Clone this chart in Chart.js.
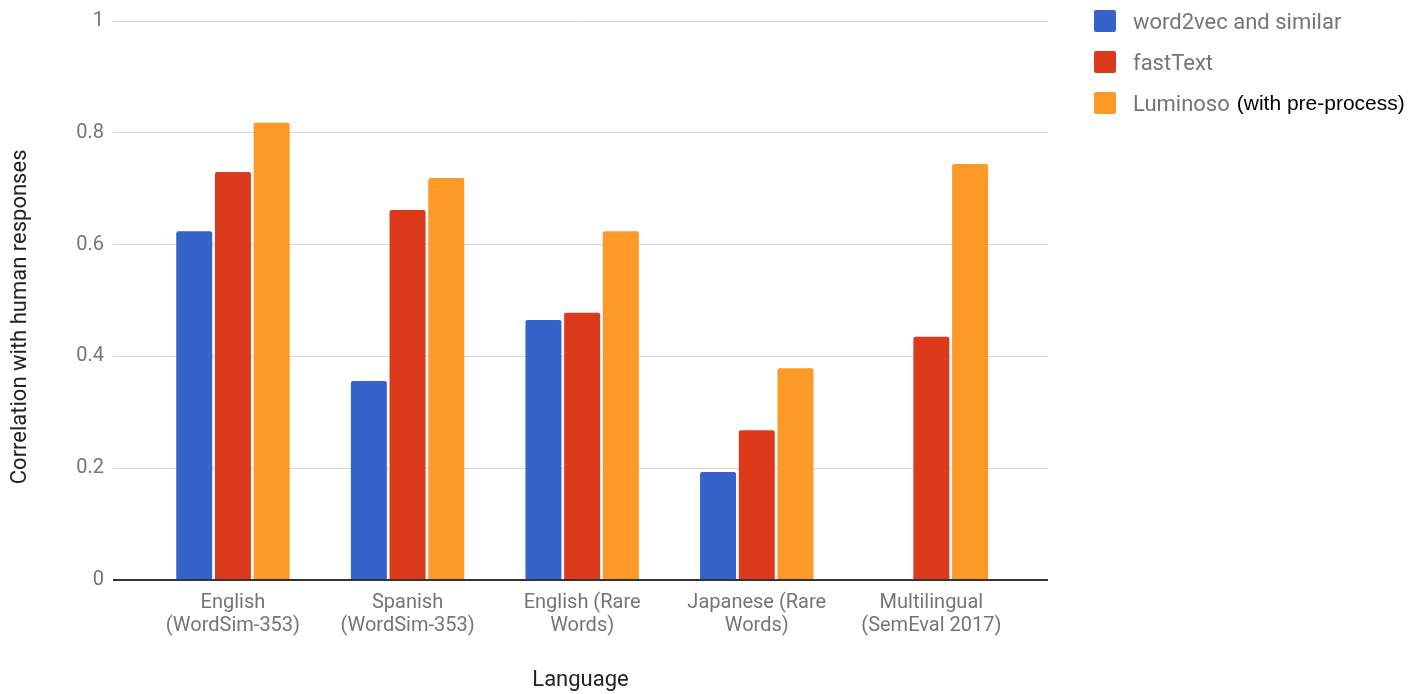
<!DOCTYPE html>
<html>
<head>
<meta charset="utf-8">
<script src="https://cdn.jsdelivr.net/npm/chart.js@4/dist/chart.umd.min.js"></script>
<style>
  html, body { margin: 0; padding: 0; background: #fff; }
  #wrap { position: relative; width: 1414px; height: 694px; overflow: hidden; }
  #c { position: absolute; left: 0; top: 0; }
  #legend { position: absolute; left: 1094px; top: 0; font-family: Roboto, sans-serif; font-size: 22px; color: #757575; }
  .row { position: absolute; left: 0; height: 22px; white-space: nowrap; display: flex; align-items: center; }
  .sw { width: 22px; height: 22px; border-radius: 2px; margin-right: 17px; flex: none; }
  .note { color: #000; font-family: "Liberation Sans", Arial, sans-serif; font-size: 21px; margin-left: 7px; }
</style>
</head>
<body>
<div id="wrap">
  <canvas id="c" width="1414" height="694"></canvas>
  <div id="legend"></div>
</div>
<script>
// ---- data ----
const categories = [
  ["English", "(WordSim-353)"],
  ["Spanish", "(WordSim-353)"],
  ["English (Rare", "Words)"],
  ["Japanese (Rare", "Words)"],
  ["Multilingual", "(SemEval 2017)"]
];
const seriesNames = ["word2vec and similar", "fastText", "Luminoso"];
const seriesNotes = ["", "", "(with pre-process)"];
const word2vecValues = [0.624, 0.356, 0.465, 0.193, null];
const fastTextValues = [0.730, 0.662, 0.478, 0.268, 0.435];
const luminosoValues = [0.818, 0.719, 0.624, 0.379, 0.744];
const yTicks = [0, 0.2, 0.4, 0.6, 0.8, 1];
const yTickLabels = ["0", "0.2", "0.4", "0.6", "0.8", "1"];
const yTitle = "Correlation with human responses";
const xTitle = "Language";

// ---- styles ----
const colors = ["#3563c9", "#db3b1b", "#fd9a27"];
const positions = categories.map((_, i) => i);

const datasets = [word2vecValues, fastTextValues, luminosoValues].map((vals, i) => ({
  label: seriesNames[i],
  data: vals,
  backgroundColor: colors[i],
  borderWidth: 0,
  borderRadius: 2,
  categoryPercentage: 0.665,
  barPercentage: 0.93
}));

new Chart(document.getElementById("c"), {
  type: "bar",
  data: { labels: positions, datasets },
  options: {
    responsive: false,
    animation: false,
    layout: { padding: { top: 21, right: 366, bottom: 0, left: 0 } },
    plugins: { legend: { display: false }, tooltip: { enabled: false } },
    scales: {
      x: {
        type: "linear",
        offset: false,
        min: -0.687,
        max: 4.668,
        afterBuildTicks: s => { s.ticks = positions.map(v => ({ value: v })); },
        afterFit: s => { s.height = 114; },
        grid: { display: false, drawTicks: false },
        border: { display: false },
        ticks: {
          autoSkip: false,
          maxRotation: 0,
          padding: 12,
          color: "#757575",
          font: { family: "Roboto, sans-serif", size: 20, lineHeight: 1.12 },
          callback: v => categories[v]
        },
        title: {
          display: true,
          text: xTitle,
          color: "#222",
          font: { family: "Roboto, sans-serif", size: 22 },
          padding: { top: 0, bottom: 0 }
        }
      },
      y: {
        min: 0,
        max: 1,
        afterBuildTicks: s => { s.ticks = yTicks.map(v => ({ value: v })); },
        afterFit: s => { s.width = 113; },
        grid: {
          drawTicks: false,
          color: c => c.tick && c.tick.value === 0 ? "#333" : "#d4d4d4",
          lineWidth: c => c.tick && c.tick.value === 0 ? 2 : 1
        },
        border: { display: false },
        ticks: {
          padding: 9,
          color: "#757575",
          font: { family: "Roboto, sans-serif", size: 20 },
          callback: (v, i) => yTickLabels[i]
        },
        title: {
          display: true,
          text: yTitle + "\u00a0".repeat(6),
          color: "#222",
          font: { family: "Roboto, sans-serif", size: 22 },
          padding: { top: 7, bottom: 0 }
        }
      }
    }
  }
});

// ---- legend (HTML, built from series arrays) ----
const legend = document.getElementById("legend");
const rowTops = [10, 51, 92];
seriesNames.forEach((name, i) => {
  const row = document.createElement("div");
  row.className = "row";
  row.style.top = rowTops[i] + "px";
  const sw = document.createElement("span");
  sw.className = "sw";
  sw.style.background = colors[i];
  row.appendChild(sw);
  row.appendChild(document.createTextNode(name));
  if (seriesNotes[i]) {
    const n = document.createElement("span");
    n.className = "note";
    n.textContent = seriesNotes[i];
    row.appendChild(n);
  }
  legend.appendChild(row);
});
</script>
</body>
</html>
